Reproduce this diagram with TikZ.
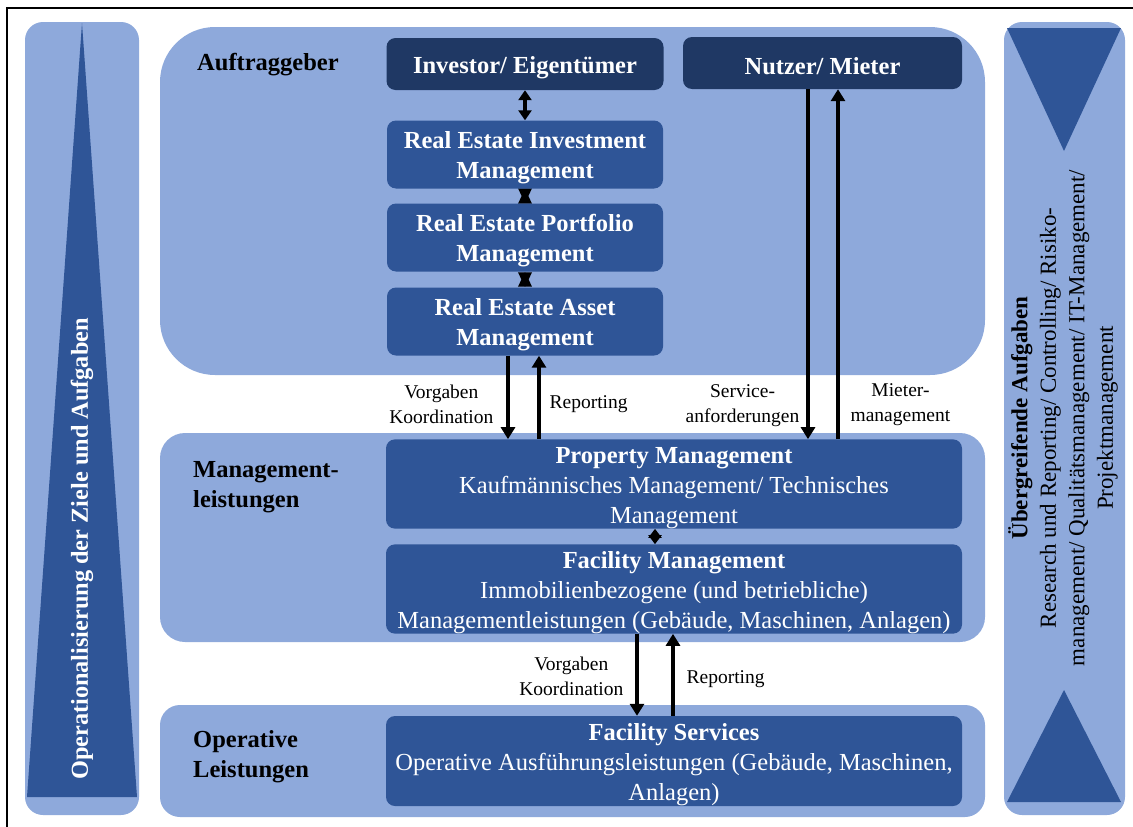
\documentclass[tikz,border=0pt]{standalone}
\usepackage{fontspec}
\setmainfont{Liberation Serif}
\usetikzlibrary{arrows.meta}
\definecolor{paneblue}{HTML}{8EA9DB}
\definecolor{boxblue}{HTML}{2F5597}
\definecolor{navyblue}{HTML}{1F3864}
\newcommand\mainsize{\fontsize{24.5}{30}\selectfont}
\newcommand\labelsize{\fontsize{19.5}{25}\selectfont}
\newcommand\sidesize{\fontsize{23}{28.5}\selectfont}
% extra room above the first line lowers the text a little inside its box
\newcommand\lift{\rule{0pt}{24pt}}
\pgfdeclarelayer{back}
\pgfdeclarelayer{mid}
\pgfsetlayers{back,mid,main}

\begin{document}
\begin{tikzpicture}[x=1pt,y=-1pt,
  panel/.style={fill=paneblue, inner sep=0pt, minimum width=825pt},
  column/.style={fill=paneblue, rounded corners=18pt, inner sep=0pt, minimum height=793pt},
  box/.style={fill=boxblue, rounded corners=9pt, inner sep=0pt, text=white, align=center, font=\mainsize},
  topbox/.style={box, fill=navyblue, minimum width=277pt, minimum height=52pt, font=\mainsize\bfseries},
  rebox/.style={box, minimum width=276pt, minimum height=68pt, font=\mainsize\bfseries},
  widebox/.style={box, minimum width=576pt},
  tier/.style={font=\mainsize\bfseries, align=left, anchor=west, inner sep=0pt},
  lbl/.style={font=\labelsize, align=center, inner sep=0pt},
  flow/.style={line width=3.3pt, -{Triangle[length=12pt,width=14pt]}},
  shortlink/.style={line width=3.3pt, {Triangle[length=15pt,width=13pt]}-{Triangle[length=15pt,width=13pt]}},
  link/.style={line width=3.3pt, {Triangle[length=10pt,width=13pt]}-{Triangle[length=10pt,width=13pt]}},
]
\useasboundingbox (0,0) rectangle (1133,827);

% frame
\draw[line width=1.6pt] (7,827) -- (7,8) -- (1133,8);

% side columns with their wedges
\begin{pgfonlayer}{back}
\node[column, minimum width=114pt] (leftcol) at (82,418.5) {};
\fill[boxblue] (82,23) -- (137,797) -- (27,797) -- cycle;
\node[column, minimum width=121pt] (rightcol) at (1064.5,418.5) {};
\fill[boxblue] (1007,28) -- (1121,28) -- (1064,151) -- cycle;
\fill[boxblue] (1064,690) -- (1121,802) -- (1007,802) -- cycle;

% level panels
\node[panel, rounded corners=55pt, minimum height=348pt] (client) at (572.5,201) {};
\node[panel, rounded corners=25pt, minimum height=209pt] (mgmt) at (572.5,537.5) {};
\node[panel, rounded corners=20pt, minimum height=112pt] (ops) at (572.5,761) {};
\end{pgfonlayer}

\node[rotate=90, text=white, font=\fontsize{24.3}{28}\selectfont\bfseries, inner sep=0pt] (goal) at (82,549) {Operationalisierung der Ziele und Aufgaben};
\node[rotate=90, font=\sidesize, align=center, inner sep=0pt] (tasks) at (1063,418) {\textbf{Übergreifende Aufgaben}\\Research und Reporting/ Controlling/ Risiko-\\management/ Qualitätsmanagement/ IT-Management/\\Projektmanagement};

% level titles
\node[tier] (t1) at (197,65) {Auftraggeber};
\node[tier] (t2) at (193,487) {Management-\\leistungen};
\node[tier] (t3) at (193,757) {Operative\\Leistungen};

% boxes
\node[topbox] (inv) at (525,64) {\lift Investor/ Eigentümer};
\node[topbox, minimum width=279pt] (user) at (822.5,63) {\lift Nutzer/ Mieter};
\node[rebox] (reim) at (525,154.5) {\lift Real Estate Investment\\Management};
\node[rebox] (repm) at (525,237.5) {\lift Real Estate Portfolio\\Management};
\node[rebox] (ream) at (525,321.5) {\lift Real Estate Asset\\Management};
\node[widebox, minimum height=86pt] (pm) at (674,484) {\lift\textbf{Property Management}\\Kaufmännisches Management/ Technisches\\Management};
\node[widebox, minimum height=88pt] (fm) at (674,589) {\lift\textbf{Facility Management}\\Immobilienbezogene (und betriebliche)\\Managementleistungen (Gebäude, Maschinen, Anlagen)};
\node[widebox, minimum height=90pt] (fs) at (674,761) {\lift\textbf{Facility Services}\\Operative Ausführungsleistungen (Gebäude, Maschinen,\\Anlagen)};

% connectors
\begin{pgfonlayer}{mid}
\draw[link] (inv) -- (reim);
\draw[shortlink] (reim) -- (repm);
\draw[shortlink] (repm) -- (ream);
\draw[line width=3.3pt, {Triangle[length=9pt,width=13pt]}-{Triangle[length=9pt,width=13pt]}] ([xshift=-19pt]pm.south) -- ([xshift=-19pt]fm.north);
\end{pgfonlayer}

\draw[flow] ([xshift=-17pt]ream.south) -- ([xshift=-17pt]ream.south |- pm.north)
  node[lbl, pos=0.58, left=13pt] {Vorgaben\\Koordination};
\draw[flow] ([xshift=14pt]ream.south |- pm.north) -- ([xshift=14pt]ream.south)
  node[lbl, pos=0.42, right=9pt] {Reporting};
\draw[flow] ([xshift=-14.5pt]user.south) -- ([xshift=-14.5pt]user.south |- pm.north)
  node[lbl, pos=0.905, left=7pt] {Service-\\anforderungen};
\draw[flow] ([xshift=15.5pt]user.south |- pm.north) -- ([xshift=15.5pt]user.south)
  node[lbl, pos=0.1, right=11pt] {Mieter-\\management};
\draw[flow] ([xshift=-37pt]fm.south) -- ([xshift=-37pt]fm.south |- fs.north)
  node[lbl, pos=0.52, left=12pt] {Vorgaben\\Koordination};
\draw[flow] ([xshift=-1pt]fm.south |- fs.north) -- ([xshift=-1pt]fm.south)
  node[lbl, pos=0.45, right=12pt] {Reporting};
\end{tikzpicture}
\end{document}
